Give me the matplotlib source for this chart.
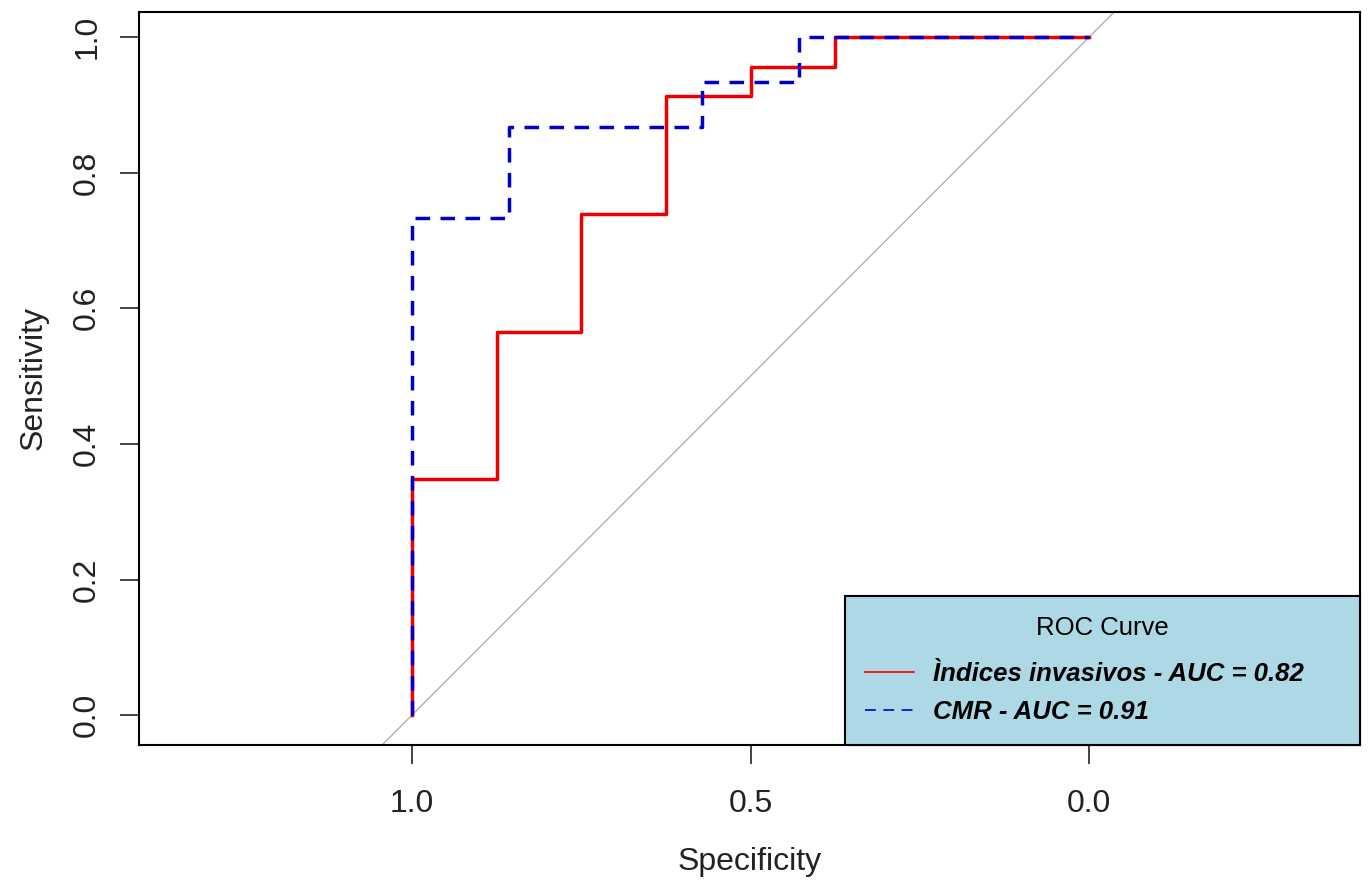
import numpy as np
import matplotlib.pyplot as plt
from matplotlib.lines import Line2D

plt.rcParams['font.family'] = ['Liberation Sans', 'DejaVu Sans']

# ROC curve points (specificity, sensitivity)
spec_inv = [1, 1, 7/8, 7/8, 6/8, 6/8, 5/8, 5/8, 4/8, 4/8, 3/8, 3/8, 0]
sens_inv = [0, 8/23, 8/23, 13/23, 13/23, 17/23, 17/23, 21/23, 21/23, 22/23, 22/23, 1, 1]
spec_cmr = [1, 1, 6/7, 6/7, 4/7, 4/7, 3/7, 3/7, 0]
sens_cmr = [0, 11/15, 11/15, 13/15, 13/15, 14/15, 14/15, 1, 1]
labels = ['Ìndices invasivos - AUC = 0.82', 'CMR - AUC = 0.91']
x_ticks = [1.0, 0.5, 0.0]
y_ticks = [0.0, 0.2, 0.4, 0.6, 0.8, 1.0]

fig = plt.figure(figsize=(13.68, 8.81), dpi=100)
ax = fig.add_axes([0.1016, 0.1544, 0.8926, 0.832])

# chance diagonal
ax.axline((1, 0), (0, 1), color='#aaaaaa', lw=0.9, zorder=1)

ax.plot(spec_inv, sens_inv, color='#ee0000', lw=2.5, zorder=3)
ax.plot(spec_cmr, sens_cmr, color='#0000cc', lw=2.5, dashes=(4.2, 3.0), zorder=4)

ax.set_xlim(1.403, -0.400)
ax.set_ylim(-0.044, 1.037)
ax.set_xticks(x_ticks)
ax.set_xticklabels([f'{v:.1f}' for v in x_ticks])
ax.set_yticks(y_ticks)
ax.set_yticklabels([f'{v:.1f}' for v in y_ticks], rotation=90, va='center')
ax.tick_params(direction='out', length=13.5, width=1.2, labelsize=23,
               colors='#222222')
ax.tick_params(axis='x', pad=18)
ax.tick_params(axis='y', pad=13)
for s in ax.spines.values():
    s.set_linewidth(1.5)

ax.set_xlabel('Specificity', fontsize=23, color='#222222', labelpad=20)
ax.set_ylabel('Sensitivity', fontsize=23, color='#222222', labelpad=17)

handles = [Line2D([], [], color='#ee0000', lw=1.2),
           Line2D([], [], color='#0000cc', lw=1.2, dashes=(6.5, 4.5))]
leg = ax.legend(handles, labels, title='ROC Curve', loc='lower left',
                bbox_to_anchor=(0.578, 0.0, 0.422, 0.202), mode='expand',
                borderaxespad=0, fancybox=False, framealpha=1,
                facecolor='#add8e6', edgecolor='black',
                prop={'size': 18.5, 'weight': 'bold', 'style': 'italic'},
                title_fontsize=18.5, handlelength=1.9, handletextpad=0.75,
                borderpad=0.8, labelspacing=0.55)
leg.get_frame().set_linewidth(1.5)
leg.set_zorder(5)
leg._legend_box.align = 'center'
leg._legend_box.sep = 16

fig.savefig('out.png', dpi=100)
